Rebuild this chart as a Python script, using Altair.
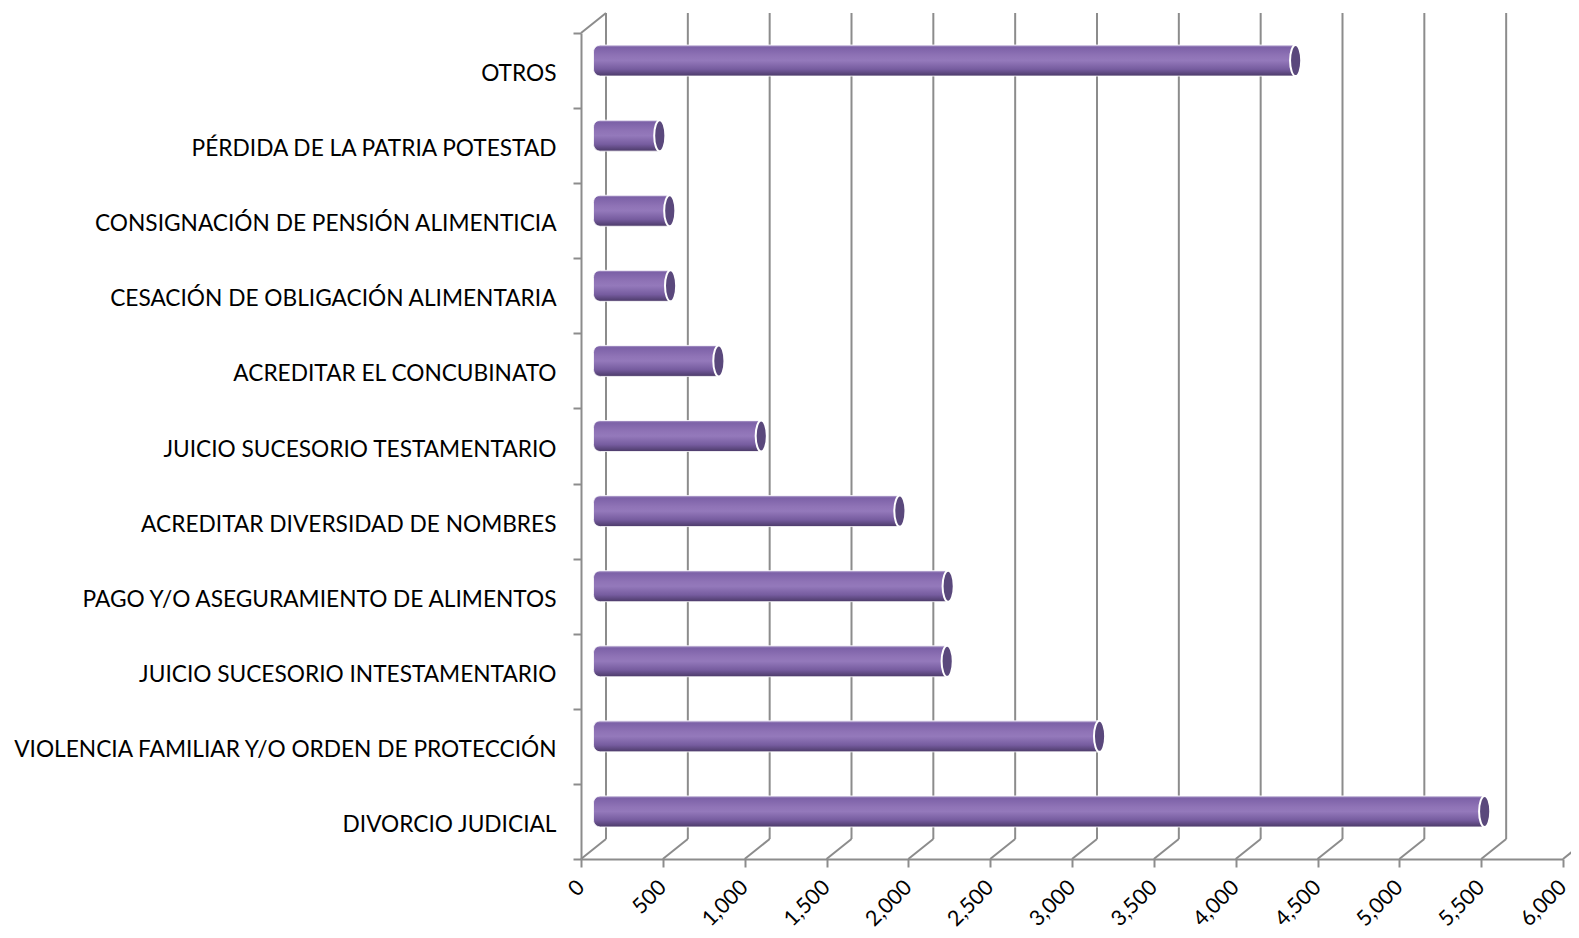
import altair as alt
import pandas as pd

categories = [
    "DIVORCIO JUDICIAL",
    "VIOLENCIA FAMILIAR Y/O ORDEN DE PROTECCIÓN",
    "JUICIO SUCESORIO INTESTAMENTARIO",
    "PAGO Y/O ASEGURAMIENTO DE ALIMENTOS",
    "ACREDITAR DIVERSIDAD DE NOMBRES",
    "JUICIO SUCESORIO TESTAMENTARIO",
    "ACREDITAR EL CONCUBINATO",
    "CESACIÓN DE OBLIGACIÓN ALIMENTARIA",
    "CONSIGNACIÓN DE PENSIÓN ALIMENTICIA",
    "PÉRDIDA DE LA PATRIA POTESTAD",
    "OTROS",
]
values = [5445, 3092, 2161, 2167, 1872, 1025, 766, 471, 466, 405, 4290]
tick_values = [0, 500, 1000, 1500, 2000, 2500, 3000, 3500, 4000, 4500, 5000, 5500, 6000]

W, H = 982, 826
DX, DY = 25, 20          # depth of the 3-D box
BX, BY = DX / 2, DY / 2  # bars sit mid-depth
GRID = "#8c8c8c"
FONT = "Lato"

df = pd.DataFrame({"cat": categories, "value": values, "zero": [0] * len(values)})
ticks_df = pd.DataFrame({"t": tick_values})
origin_df = pd.DataFrame({"t": [0]})
order = list(reversed(categories))

xscale = alt.Scale(domain=[0, 6000], nice=False, zero=True)
yscale = alt.Scale(domain=order, paddingInner=0, paddingOuter=0)

base = alt.Chart(df)

back_grid = alt.Chart(ticks_df).mark_rule(
    color=GRID, strokeWidth=2, xOffset=DX
).encode(
    x=alt.X(
        "t:Q", scale=xscale, title=None,
        axis=alt.Axis(
            values=tick_values, format=",d", title=None, grid=False,
            domainColor=GRID, domainWidth=2, tickColor=GRID, tickWidth=2, tickSize=8,
            labelAngle=-45, labelAlign="right", labelBaseline="middle",
            labelPadding=17, labelFontSize=21.5, labelFont=FONT, labelColor="#000000",
        ),
    ),
    y=alt.value(-DY),
    y2=alt.value(H - DY),
)

floor_diag = alt.Chart(ticks_df).mark_rule(
    color=GRID, strokeWidth=2, x2Offset=DX
).encode(
    x=alt.X("t:Q", scale=xscale, title=None),
    x2="t:Q",
    y=alt.value(H),
    y2=alt.value(H - DY),
)

top_diag = alt.Chart(origin_df).mark_rule(
    color=GRID, strokeWidth=2, x2Offset=DX
).encode(
    x=alt.X("t:Q", scale=xscale, title=None),
    x2="t:Q",
    y=alt.value(0),
    y2=alt.value(-DY),
)

grad = alt.Gradient(
    gradient="linear",
    x1=0, x2=0, y1=0, y2=1,
    stops=[
        alt.GradientStop(color="#b7a8d2", offset=0.0),
        alt.GradientStop(color="#7c61a7", offset=0.07),
        alt.GradientStop(color="#8f73b6", offset=0.35),
        alt.GradientStop(color="#9479bb", offset=0.5),
        alt.GradientStop(color="#765c9f", offset=0.78),
        alt.GradientStop(color="#4b3a68", offset=1.0),
    ],
)

bars = base.mark_bar(
    color=grad, height=31,
    xOffset=BX, x2Offset=BX, yOffset=-BY, y2Offset=-BY,
    cornerRadiusTopLeft=7, cornerRadiusBottomLeft=7,
    stroke="#ffffff", strokeWidth=1, strokeOpacity=0.8,
).encode(
    x=alt.X("value:Q", scale=xscale, title=None, stack=None),
    x2="zero:Q",
    y=alt.Y(
        "cat:N", scale=yscale, sort=order,
        axis=alt.Axis(
            title=None, grid=False, tickBand="extent",
            domainColor=GRID, domainWidth=2, tickColor=GRID, tickWidth=2, tickSize=8,
            labelPadding=17, labelFontSize=22.7, labelFont=FONT, labelColor="#000000",
            labelLimit=700, labelOffset=3,
        ),
    ),
)

ellipse = "M0,-1 A0.36,1 0 1 1 0,1 A0.36,1 0 1 1 0,-1 Z"
caps = base.mark_point(
    shape=ellipse, size=961, filled=True, fill="#5a487c", opacity=1,
    stroke="#ffffff", strokeWidth=2, xOffset=BX, yOffset=-BY,
).encode(
    x=alt.X("value:Q", scale=xscale, title=None),
    y=alt.Y("cat:N", scale=yscale, sort=order),
)

chart = alt.layer(back_grid, floor_diag, top_diag, bars, caps).properties(
    width=W, height=H,
    autosize=alt.AutoSizeParams(type="none"),
    padding={"left": 573, "top": 25, "right": 8, "bottom": 71},
    background="#ffffff",
).configure_view(strokeWidth=0, stroke="transparent")

chart.save("out.html", embed_options={"renderer": "svg", "actions": False})
